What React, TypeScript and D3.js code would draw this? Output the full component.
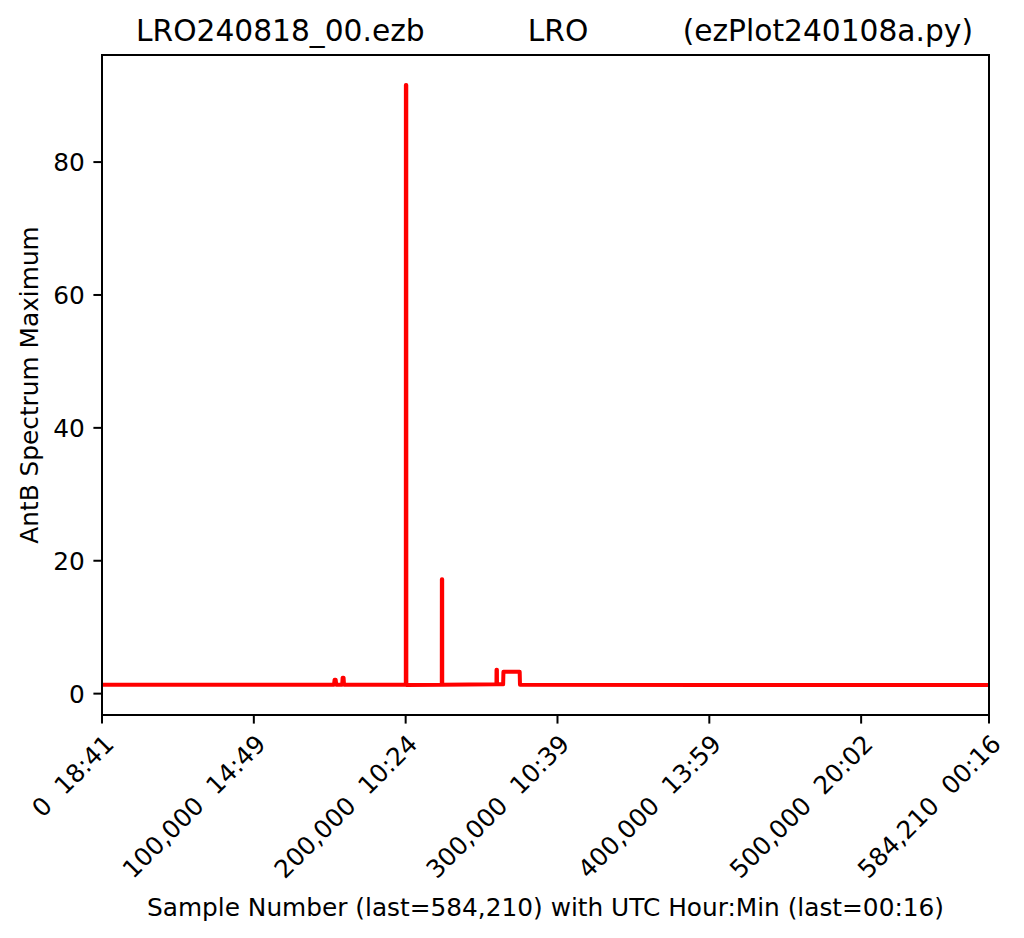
import React from "react";
import * as d3 from "d3";

const titleLeft = "LRO240818_00.ezb";
const titleMid = "LRO";
const titleRight = "(ezPlot240108a.py)";
const xLabel = "Sample Number (last=584,210) with UTC Hour:Min (last=00:16)";
const yLabel = "AntB Spectrum Maximum";

const xTickValues = [0, 100000, 200000, 300000, 400000, 500000, 584210];
const xTickLabels = [
  "0  18:41",
  "100,000  14:49",
  "200,000  10:24",
  "300,000  10:39",
  "400,000  13:59",
  "500,000  20:02",
  "584,210  00:16",
];
const yTickValues = [0, 20, 40, 60, 80];

const sampleNumbers = [
  0, 152800, 153200, 153900, 154300, 158200, 158500, 159100, 159400,
  200100, 200150, 200400, 200450, 223800, 223850, 224050, 224100,
  259800, 259850, 260100, 260150, 264200, 264400, 275100, 275300,
  400000, 584210,
];
const spectrumMax = [
  1.35, 1.35, 2.1, 2.1, 1.35, 1.35, 2.4, 2.4, 1.35,
  1.35, 91.6, 91.6, 1.3, 1.35, 17.2, 17.2, 1.35,
  1.4, 3.6, 3.6, 1.4, 1.4, 3.3, 3.3, 1.35,
  1.3, 1.3,
];

const W = 1024;
const H = 938;
const left = 102;
const right = 989;
const top = 55;
const bottom = 715;
const FONT = "DejaVu Sans, sans-serif";
const TICK_FS = 24.8;
const TITLE_FS = 29.7;

export default function App() {
  const x = d3.scaleLinear().domain([0, 584210]).range([left, right]);
  const [mn, mx] = d3.extent(spectrumMax) as [number, number];
  const pad = (mx - mn) * 0.05;
  const y = d3.scaleLinear().domain([mn - pad, mx + pad]).range([bottom, top]);
  const pts = sampleNumbers.map((s, i) => [s, spectrumMax[i]] as [number, number]);
  const line = d3
    .line<[number, number]>()
    .x((d) => x(d[0]))
    .y((d) => y(d[1]));
  const tickLen = 8.6;
  const tickPad = 8.6;

  return (
    <svg
      width={W}
      height={H}
      style={{ position: "absolute", left: 0, top: 0, background: "#fff" }}
      fontFamily={FONT}
    >
      <rect x={0} y={0} width={W} height={H} fill="#fff" />
      <defs>
        <clipPath id="plotclip">
          <rect x={left} y={top} width={right - left} height={bottom - top} />
        </clipPath>
      </defs>
      <path
        d={line(pts) || ""}
        fill="none"
        stroke="#ff0000"
        strokeWidth={4}
        strokeLinejoin="round"
        clipPath="url(#plotclip)"
      />
      <rect
        x={left}
        y={top}
        width={right - left}
        height={bottom - top}
        fill="none"
        stroke="#000"
        strokeWidth={2}
      />
      {xTickValues.map((v, i) => (
        <g key={"xt" + i}>
          <line x1={x(v)} x2={x(v)} y1={bottom} y2={bottom + tickLen} stroke="#000" strokeWidth={2} />
          <text
            transform={`translate(${x(v)},${bottom + tickLen + tickPad}) rotate(-45)`}
            textAnchor="end"
            dy="0.76em"
            fontSize={TICK_FS}
            style={{ whiteSpace: "pre" }}
          >
            {xTickLabels[i]}
          </text>
        </g>
      ))}
      {yTickValues.map((v, i) => (
        <g key={"yt" + i}>
          <line x1={left - tickLen} x2={left} y1={y(v)} y2={y(v)} stroke="#000" strokeWidth={2} />
          <text
            x={left - tickLen - tickPad}
            y={y(v)}
            dy="0.36em"
            textAnchor="end"
            fontSize={TICK_FS}
          >
            {v}
          </text>
        </g>
      ))}
      <text x={(left + right) / 2} y={916} textAnchor="middle" fontSize={TICK_FS}>
        {xLabel}
      </text>
      <text
        transform={`translate(38,${(top + bottom) / 2}) rotate(-90)`}
        textAnchor="middle"
        fontSize={TICK_FS}
      >
        {yLabel}
      </text>
      <text x={136} y={41} fontSize={TITLE_FS}>
        {titleLeft}
      </text>
      <text x={558} y={41} textAnchor="middle" fontSize={TITLE_FS}>
        {titleMid}
      </text>
      <text x={973} y={41} textAnchor="end" fontSize={TITLE_FS}>
        {titleRight}
      </text>
    </svg>
  );
}
